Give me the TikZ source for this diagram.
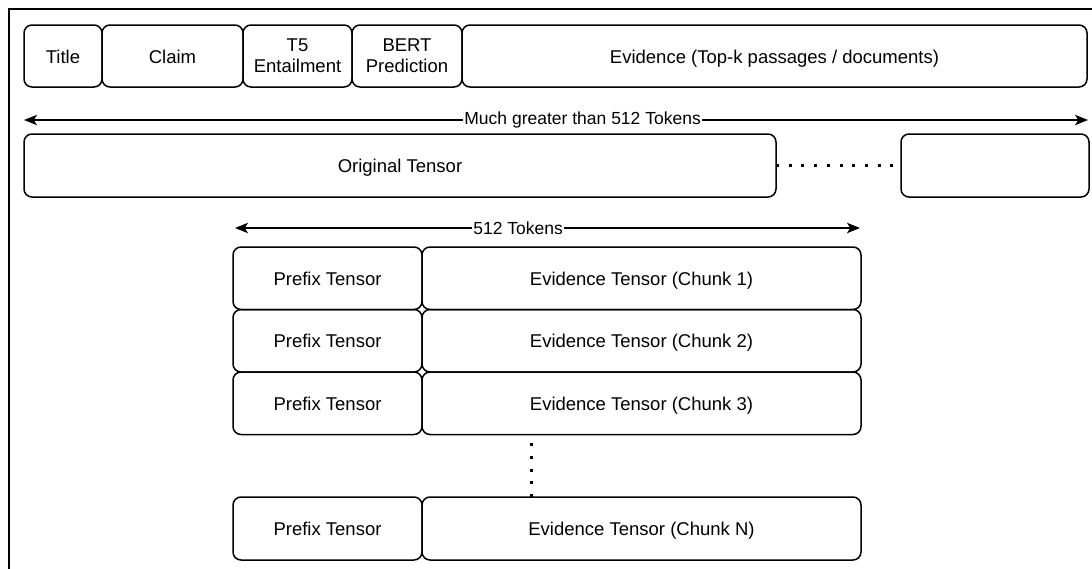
\documentclass[tikz,border=0pt]{standalone}
\usepackage{fontspec}
\setmainfont{Liberation Sans}
\usetikzlibrary{positioning,calc,arrows.meta}

\begin{document}
\begin{tikzpicture}[x=0.5pt,y=-0.5pt,line width=0.75pt,
				block/.style={draw,rectangle,rounded corners=4pt,outer sep=0pt,inner sep=1pt,node distance=0pt,
					align=center,text height=0.72em,text depth=0pt,font=\fontsize{9.25}{10.5}\selectfont},
				twoline/.style={text height=,text depth=},
				span/.style={{Stealth[length=6.5pt,width=5.2pt,inset=1.6pt]}-{Stealth[length=6.5pt,width=5.2pt,inset=1.6pt]}},
				spanlabel/.style={fill=white,inner sep=0.6pt,font=\fontsize{8.75}{10}\selectfont},
				dots/.style={line width=1.5pt,dash pattern=on 1.5pt off 4.85pt}]
				\useasboundingbox (0,0) rectangle (1092,568);
				\draw (9,9) rectangle (1120,600);

				\node (title) [block,minimum width=39pt,minimum height=31pt,anchor=north west] at (24,25) {Title};
				\node (claim) [block,minimum width=70.5pt,minimum height=31pt,right=of title] {Claim};
				\node (tfive) [block,twoline,minimum width=54.5pt,minimum height=31pt,right=of claim] {T5\\Entailment};
				\node (bert)  [block,twoline,minimum width=55pt,minimum height=31pt,right=of tfive]   {BERT\\Prediction};
				\node (evid)  [block,minimum width=312.5pt,minimum height=31pt,right=of bert] {Evidence (Top-k passages / documents)};

				\coordinate (wideL)  at (24,120);
				\coordinate (wideR)  at (1088,120);
				\draw[span] (wideL) -- node[spanlabel,pos=0.525] {Much greater than 512 Tokens} (wideR);

				\node (orig) [block,minimum width=376pt,minimum height=31.5pt,anchor=north west] at (24,134) {Original Tensor};
				\node (rest) [block,minimum width=94pt,minimum height=31.5pt,anchor=north west] at (901,134) {};
				\draw[dots] (orig.east) -- (rest.west);

				\coordinate (narrowL) at (235,228);
				\coordinate (narrowR) at (860,228);
				\draw[span] (narrowL) -- node[spanlabel,pos=0.453] {512 Tokens} (narrowR);

				\node (pre1) [block,minimum width=94.5pt,minimum height=31.25pt,anchor=north west] at (233,247) {Prefix Tensor};
				\node (ev1)  [block,minimum width=219.5pt,minimum height=31.25pt,right=of pre1] {Evidence Tensor (Chunk 1)};
				\node (pre2) [block,minimum width=94.5pt,minimum height=31.25pt,below=of pre1] {Prefix Tensor};
				\node (ev2)  [block,minimum width=219.5pt,minimum height=31.25pt,right=of pre2] {Evidence Tensor (Chunk 2)};
				\node (pre3) [block,minimum width=94.5pt,minimum height=31.25pt,below=of pre2] {Prefix Tensor};
				\node (ev3)  [block,minimum width=219.5pt,minimum height=31.25pt,right=of pre3] {Evidence Tensor (Chunk 3)};
				\node (preN) [block,minimum width=94.5pt,minimum height=31.5pt,anchor=north west] at (233,497) {Prefix Tensor};
				\node (evN)  [block,minimum width=219.5pt,minimum height=31.5pt,right=of preN] {Evidence Tensor (Chunk N)};

				\draw[dots] ([xshift=54.5pt]evN.north west) -- ([xshift=54.5pt]ev3.south west);
			\end{tikzpicture}
\end{document}
